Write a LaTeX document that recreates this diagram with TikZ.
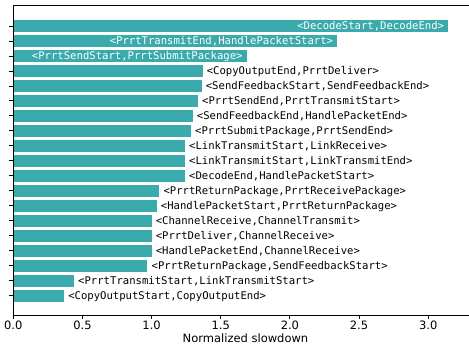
\documentclass[tikz,border=0pt]{standalone}
\usepackage{fontspec}
\setmainfont{DejaVu Sans}
\setmonofont{DejaVu Sans Mono}
\definecolor{barteal}{RGB}{58,170,172}
\newcommand{\monolabel}{\fontsize{10.6}{12}\ttfamily}
\newcommand{\ticktext}{\fontsize{11.5}{13}\rmfamily}
\begin{document}
\begin{tikzpicture}[x=1pt,y=-1pt,
  barshape/.style={fill=barteal,draw=none},
  inlabel/.style={anchor=base east,inner sep=0pt,text=white,font=\monolabel},
  outlabel/.style={anchor=base west,inner sep=0pt,font=\monolabel},
  spine/.style={line width=0.9pt,line cap=rect},
  tickmark/.style={line width=0.9pt},
  ticklabel/.style={anchor=base,inner sep=0pt,font=\ticktext}]
\useasboundingbox (0,0) rectangle (469,347);
\begin{scope}
\clip (0,0) rectangle (469,347);
% bars with their pair labels, top to bottom
\foreach \v/\lab [count=\i] in {
  3.145/{<DecodeStart,DecodeEnd>},
  2.343/{<PrrtTransmitEnd,HandlePacketStart>},
  1.688/{<PrrtSendStart,PrrtSubmitPackage>},
  1.369/{<CopyOutputEnd,PrrtDeliver>},
  1.362/{<SendFeedbackStart,SendFeedbackEnd>},
  1.335/{<PrrtSendEnd,PrrtTransmitStart>},
  1.297/{<SendFeedbackEnd,HandlePacketEnd>},
  1.285/{<PrrtSubmitPackage,PrrtSendEnd>},
  1.241/{<LinkTransmitStart,LinkReceive>},
  1.241/{<LinkTransmitStart,LinkTransmitEnd>},
  1.241/{<DecodeEnd,HandlePacketStart>},
  1.056/{<PrrtReturnPackage,PrrtReceivePackage>},
  1.037/{<HandlePacketStart,PrrtReturnPackage>},
  1.000/{<ChannelReceive,ChannelTransmit>},
  1.000/{<PrrtDeliver,ChannelReceive>},
  1.000/{<HandlePacketEnd,ChannelReceive>},
  0.970/{<PrrtReturnPackage,SendFeedbackStart>},
  0.439/{<PrrtTransmitStart,LinkTransmitStart>},
  0.367/{<CopyOutputStart,CopyOutputEnd>}}{
  \pgfmathsetmacro\xe{13.3+138.3*\v}
  \pgfmathsetmacro\yc{26+(\i-1)*14.99}
  \fill[barshape] (13.3,\yc-6) rectangle (\xe,\yc+6);
  \draw[tickmark] (9.3,\yc) -- (13.3,\yc);
  \ifnum\i<4
    \node[inlabel] (lab\i) at (\xe-4,\yc+4) {\lab};
  \else
    \node[outlabel] (lab\i) at (\xe+4,\yc+4) {\lab};
  \fi
}
% x axis ticks and labels
\foreach \t in {0.0,0.5,1.0,1.5,2.0,2.5,3.0}{
  \pgfmathsetmacro\xt{13.3+138.3*\t}
  \draw[tickmark] (\xt,315.3) -- (\xt,319.3);
  \node[ticklabel] (xt\t) at (\xt,330) {\t};
}
% axes frame
\draw[spine] (13.3,315.3) -- (13.3,5.3) -- (480,5.3);
\draw[spine] (13.3,315.3) -- (480,315.3);
\end{scope}
\node[ticklabel] (xlabel) at (245.5,342.3) {Normalized slowdown};
\end{tikzpicture}
\end{document}
